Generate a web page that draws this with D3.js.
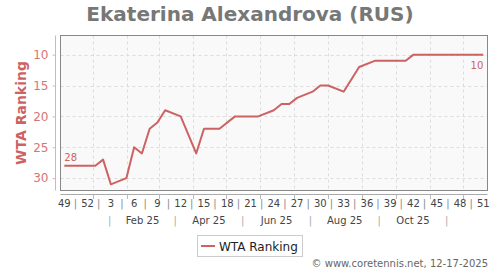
<!DOCTYPE html>
<html><head><meta charset="utf-8">
<script src="https://cdn.jsdelivr.net/npm/d3@7"></script>
<style>body{margin:0;background:#fff;}svg{display:block;font-family:"DejaVu Sans",Verdana,sans-serif;}</style>
</head><body><svg id="c" width="500" height="270"></svg>
<script>
// ---- data ----
const title = "Ekaterina Alexandrova (RUS)";
const seriesName = "WTA Ranking";
const weekIdx = [0,1,2,3,4,5,6,8,9,10,11,12,13,15,17,18,19,20,22,23,24,25,27,28,29,30,32,33,34,36,38,40,41,42,43,44,45,46,47,48,49,50,51,52,53,54];
const ranks   = [28,28,28,28,28,27,31,30,25,26,22,21,19,20,26,22,22,22,20,20,20,20,19,18,18,17,16,15,15,16,12,11,11,11,11,11,10,10,10,10,10,10,10,10,10,10];
const weekTickIdx = [0,3,6,9,12,15,18,21,24,27,30,33,36,39,42,45,48,51,54];
const weekTickLabels = ["49","52","3","6","9","12","15","18","21","24","27","30","33","36","39","42","45","48","51"];
const yTicks = [10,15,20,25,30];
const monthLabels = ["Feb 25","Apr 25","Jun 25","Aug 25","Oct 25"];
const monthSeps = ["2025-01-16","2025-03-16","2025-05-16","2025-07-16","2025-09-16","2025-11-16"];
const footer = "\u00a9 www.coretennis.net, 12-17-2025";

// ---- helpers ----
const idxDate = i => new Date(2024, 11, 6 + 7*i);
const red = "#cd6262", redLight = "#d47575";
const svg = d3.select("#c");
const L = 60.5, R = 487.5, T = 35.5, B = 190.5;

const x = d3.scaleTime().domain([idxDate(0), idxDate(54)]).range([64.3, 483.3]);
const y = d3.scaleLinear().domain([6.9, 32]).range([T, B]);

// title
svg.append("text").attr("x",250).attr("y",21).attr("text-anchor","middle")
  .attr("font-size",20).attr("font-weight","bold").attr("fill","#777").text(title);

// plot background
svg.append("rect").attr("x",L).attr("y",T).attr("width",R-L).attr("height",B-T).attr("fill","#f9f9f9");

// horizontal grid
svg.append("g").selectAll("line").data(yTicks).join("line")
  .attr("x1",L).attr("x2",R).attr("y1",d=>Math.round(y(d))+0.5).attr("y2",d=>Math.round(y(d))+0.5)
  .attr("stroke","#dcdcdc").attr("stroke-dasharray","3,3");

// vertical month grid
const months = d3.timeMonth.range(new Date(2025,0,1), new Date(2025,11,2));
svg.append("g").selectAll("line").data(months).join("line")
  .attr("x1",d=>Math.round(x(d))+0.5).attr("x2",d=>Math.round(x(d))+0.5).attr("y1",T).attr("y2",B)
  .attr("stroke","#dcdcdc").attr("stroke-dasharray","3,3");

// frame
svg.append("rect").attr("x",L).attr("y",T).attr("width",R-L).attr("height",B-T)
  .attr("fill","none").attr("stroke","#888").attr("stroke-width",1);

// y axis
const yAxis = d3.axisLeft(y).tickValues(yTicks).tickSize(3).tickPadding(4);
const gy = svg.append("g").attr("transform","translate(55.5,0)").call(yAxis);
gy.select(".domain").attr("stroke","#e2b0b0").attr("d",`M0,${T}V${B}`);
gy.selectAll(".tick line").attr("stroke","#e2b0b0");
gy.selectAll(".tick text").attr("fill",redLight).attr("font-size",12).attr("font-family","DejaVu Sans");

svg.append("text").attr("transform","translate(26,113) rotate(-90)").attr("text-anchor","middle")
  .attr("font-size",14).attr("font-weight","bold").attr("fill",red).text("WTA Ranking");

// x axis line + month ticks
svg.append("line").attr("x1",L).attr("x2",R).attr("y1",194.5).attr("y2",194.5).attr("stroke","#aaa");
svg.append("g").selectAll("line").data(months).join("line")
  .attr("x1",d=>Math.round(x(d))+0.5).attr("x2",d=>Math.round(x(d))+0.5).attr("y1",194.5).attr("y2",199)
  .attr("stroke","#bbb");

// week labels
svg.append("g").selectAll("text").data(weekTickIdx).join("text")
  .attr("x",d=>x(idxDate(d))).attr("y",207).attr("text-anchor","middle")
  .attr("font-size",10).attr("fill","#444").text((d,i)=>weekTickLabels[i]);
// separators row 1
svg.append("g").selectAll("text").data(weekTickIdx.slice(0,-1)).join("text")
  .attr("x",d=>x(idxDate(d+1.5))).attr("y",207).attr("text-anchor","middle")
  .attr("font-size",10).attr("fill","#888").text("|");

// month row
const sepDates = monthSeps.map(s=>d3.timeParse("%Y-%m-%d")(s));
svg.append("g").selectAll("text").data(sepDates).join("text")
  .attr("x",d=>x(d)).attr("y",224).attr("text-anchor","middle")
  .attr("font-size",10).attr("fill","#aaa").text("|");
svg.append("g").selectAll("text").data(monthLabels).join("text")
  .attr("x",(d,i)=>(x(sepDates[i])+x(sepDates[i+1]))/2).attr("y",224).attr("text-anchor","middle")
  .attr("font-size",10).attr("fill","#444").text(d=>d);

// line
const pts = weekIdx.map((w,i)=>({d:idxDate(w), v:ranks[i]}));
svg.append("path").datum(pts)
  .attr("d",d3.line().x(p=>x(p.d)).y(p=>y(p.v)))
  .attr("fill","none").attr("stroke",red).attr("stroke-width",2).attr("stroke-linejoin","round");

// end labels
const first = pts[0], last = pts[pts.length-1];
svg.append("text").attr("x",x(first.d)).attr("y",y(first.v)-5).attr("font-size",10).attr("fill",red).text(first.v);
svg.append("text").attr("x",x(last.d)).attr("y",y(last.v)+14).attr("text-anchor","end").attr("font-size",10).attr("fill",red).text(last.v);

// legend
svg.append("rect").attr("x",197.5).attr("y",235.5).attr("width",105).attr("height",21)
  .attr("fill","#fff").attr("stroke","#ccc");
svg.append("line").attr("x1",201).attr("x2",215).attr("y1",246).attr("y2",246).attr("stroke",red).attr("stroke-width",2);
svg.append("text").attr("x",219).attr("y",250.5).attr("font-size",12).attr("fill","#222").text(seriesName);

// footer
svg.append("text").attr("x",488).attr("y",267).attr("text-anchor","end")
  .attr("font-size",10).attr("fill","#666").text(footer);
</script>
</body></html>
